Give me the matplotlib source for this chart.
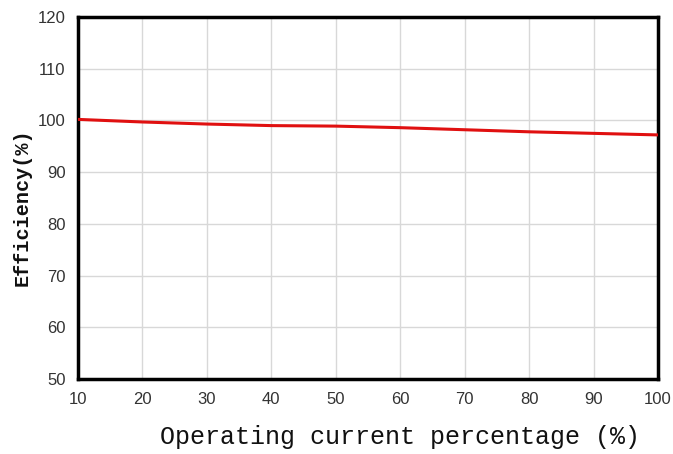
import matplotlib
matplotlib.use("Agg")
import matplotlib.pyplot as plt
from matplotlib import font_manager

x_vals = [10, 20, 30, 40, 50, 60, 70, 80, 90, 100]
efficiency = [100.2, 99.7, 99.3, 99.0, 98.9, 98.6, 98.2, 97.8, 97.5, 97.2]
x_ticks = [10, 20, 30, 40, 50, 60, 70, 80, 90, 100]
y_ticks = [50, 60, 70, 80, 90, 100, 110, 120]

names = {f.name for f in font_manager.fontManager.ttflist}
tick_font = "Liberation Sans Narrow" if "Liberation Sans Narrow" in names else "Liberation Sans"

fig = plt.figure(figsize=(6.73, 4.54), dpi=100)
ax = fig.add_axes([78/673, 1 - 379/454, 580/673, 362/454])
ax.plot(x_vals, efficiency, color="#e01010", lw=2.2, zorder=3)
ax.set_xlim(10, 100)
ax.set_ylim(50, 120)
ax.set_xticks(x_ticks)
ax.set_yticks(y_ticks)
ax.grid(True, color="#d8d8d8", lw=1.0)
ax.tick_params(length=0, pad=9, labelsize=12, colors="#333333")
for lab in ax.get_xticklabels() + ax.get_yticklabels():
    lab.set_fontfamily(tick_font)
for s in ax.spines.values():
    s.set_linewidth(2.5)
    s.set_color("black")
fig.text(400/673, 1 - 437/454, "Operating current percentage (%)", family="Liberation Mono",
         fontsize=18, color="#111111", ha="center", va="center")
fig.text(22/673, 1 - 207/454, "Efficiency(%)", family="Liberation Mono", fontweight="bold",
         fontsize=14.5, color="#111111", ha="center", va="center", rotation=90)
fig.savefig("out.png", dpi=100)
